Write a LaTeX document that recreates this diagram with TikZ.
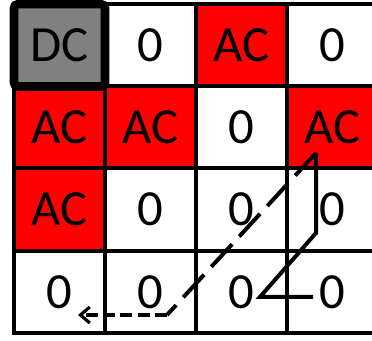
\documentclass[tikz,border=0pt]{standalone}
\usepackage{fontspec}
\setmainfont{Carlito}
\usetikzlibrary{arrows.meta}
\definecolor{acred}{RGB}{255,0,0}
\definecolor{dcgray}{RGB}{128,128,128}

\begin{document}
\begin{tikzpicture}[x=0.75pt, y=-0.75pt,
  cell/.style={rectangle, draw=black, line width=3pt, fill=white,
               minimum width=68.25pt, minimum height=61.7pt, inner sep=0pt,
               font=\fontsize{38}{40}\selectfont},
  accell/.style={cell, fill=acred},
  dccell/.style={cell, fill=dcgray, line width=6.5pt, rounded corners=3pt},
  scan/.style={line width=3pt, black},
  longdash/.style={scan, dash pattern=on 23pt off 8pt},
  shortdash/.style={scan, dash pattern=on 9pt off 4pt,
                    -{Straight Barb[length=7pt, width=12pt, line width=2.4pt]}},
]
\useasboundingbox (0,0) rectangle (372,341);
% row 1
\node[cell]   (c12) at (150.5, 45.3) {0};
\node[accell] (c13) at (241.5, 45.3) {AC};
\node[cell]   (c14) at (332.5, 45.3) {0};
% row 2
\node[accell] (c21) at (59.5, 127.4) {AC};
\node[accell] (c22) at (150.5, 127.4) {AC};
\node[cell]   (c23) at (241.5, 127.4) {0};
\node[accell] (c24) at (332.5, 127.4) {AC};
% row 3
\node[accell] (c31) at (59.5, 209.6) {AC};
\node[cell]   (c32) at (150.5, 209.6) {0};
\node[cell]   (c33) at (241.5, 209.6) {0};
\node[cell]   (c34) at (332.5, 209.6) {0};
% row 4
\node[cell]   (c41) at (59.5, 292.2) {0};
\node[cell]   (c42) at (150.5, 292.2) {0};
\node[cell]   (c43) at (241.5, 292.2) {0};
\node[cell]   (c44) at (332.5, 292.2) {0};
% DC on top
\node[dccell] (c11) at (59.5, 45.3) {DC};

% scan path
\coordinate (zstart) at (313, 297);
\coordinate (zleft)  at (260, 297);
\coordinate (zmid)   at (316, 233);
\coordinate (ztop)   at (316, 153);
\coordinate (zturn)  at (167, 315);
\coordinate (zend)   at (78, 315);
\draw[scan] (zstart) -- (zleft) -- (zmid) -- (ztop);
\draw[longdash] (ztop) -- (zturn);
\draw[shortdash] (zturn) -- (zend);
\end{tikzpicture}
\end{document}
